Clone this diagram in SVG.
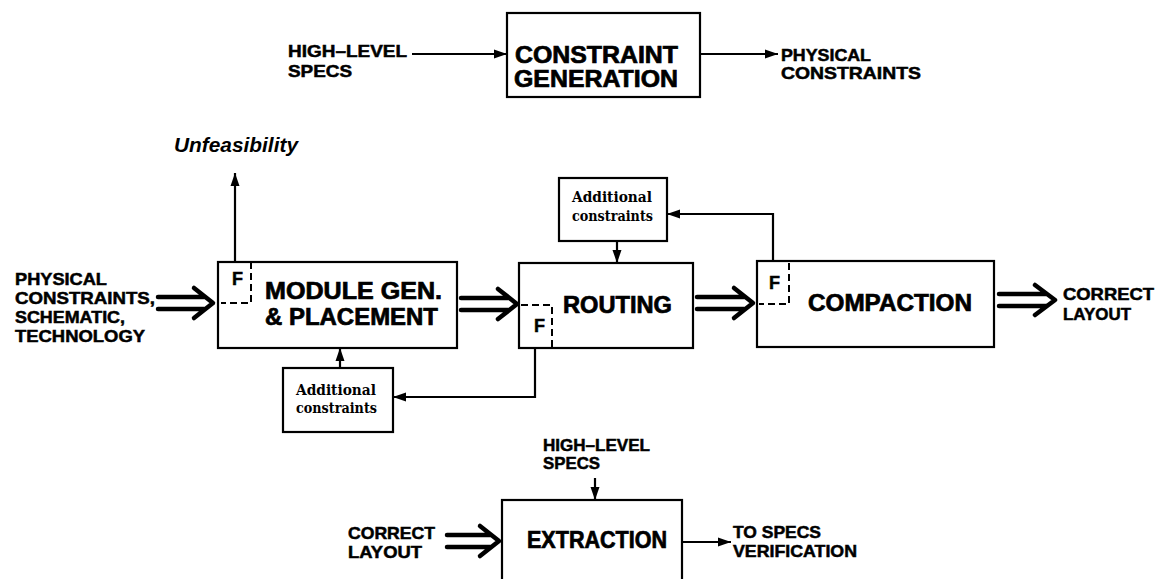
<svg xmlns="http://www.w3.org/2000/svg" width="1158" height="579" viewBox="0 0 1158 579">
<style>
.box{fill:#fff;stroke:#000;stroke-width:2.2}
.dash{fill:none;stroke:#000;stroke-width:2;stroke-dasharray:7 4}
.ln{fill:none;stroke:#000;stroke-width:2.2}
.dbl{fill:none;stroke:#000;stroke-width:4.5;stroke-linecap:round;stroke-linejoin:round}
.big{font-family:"Liberation Sans",Arial,sans-serif;font-weight:bold;font-size:23px;fill:#000;stroke:#000;stroke-width:0.7}
.lbl{font-family:"Liberation Sans",Arial,sans-serif;font-weight:bold;font-size:16.5px;fill:#000;stroke:#000;stroke-width:0.5}
.f{font-family:"Liberation Sans",Arial,sans-serif;font-weight:bold;font-size:18px;fill:#000;stroke:#000;stroke-width:0.5}
.ser{font-family:"DejaVu Serif","Liberation Serif",serif;font-weight:bold;font-size:14px;fill:#000}
.it{font-family:"Liberation Sans",Arial,sans-serif;font-weight:bold;font-style:italic;font-size:20px;fill:#000}
</style>
<defs>
<marker id="ah" markerUnits="userSpaceOnUse" markerWidth="14" markerHeight="10" refX="13" refY="5" orient="auto">
<path d="M0,0.5 L13,5 L0,9.5 z" fill="#000"/>
</marker>
</defs>
<rect width="1158" height="579" fill="#fff"/>

<g id="connectors">
<line class="ln" x1="412" y1="54" x2="507" y2="54" marker-end="url(#ah)"/>
<line class="ln" x1="700" y1="54" x2="778" y2="54" marker-end="url(#ah)"/>
<line class="ln" x1="235" y1="262" x2="235" y2="173" marker-end="url(#ah)"/>
<line class="ln" x1="617" y1="241" x2="617" y2="263" marker-end="url(#ah)"/>
<polyline class="ln" points="773,261 773,214 667,214" marker-end="url(#ah)"/>
<polyline class="ln" points="535,348 535,397 393,397" marker-end="url(#ah)"/>
<line class="ln" x1="340" y1="368" x2="340" y2="348" marker-end="url(#ah)"/>
<line class="ln" x1="595" y1="478" x2="595" y2="500" marker-end="url(#ah)"/>
<line class="ln" x1="682" y1="542" x2="731" y2="542" marker-end="url(#ah)"/>
<path class="dbl" d="M158,297 H204 M158,309 H204 M194,288 L213,303 L194,318"/>
<path class="dbl" d="M461,298 H508 M461,310 H508 M498,289 L517,304 L498,319"/>
<path class="dbl" d="M697,297 H744 M697,309 H744 M734,288 L753,303 L734,318"/>
<path class="dbl" d="M999,294 H1046 M999,306 H1046 M1035,285 L1055,300 L1035,315"/>
<path class="dbl" d="M447,535 H490 M447,547 H490 M480,526 L499,541 L480,556"/>
</g>

<g id="constraint-generation">
<rect class="box" x="507" y="13" width="193" height="84"/>
<text class="big" x="515" y="63" textLength="163" lengthAdjust="spacingAndGlyphs">CONSTRAINT</text>
<text class="big" x="514" y="87" textLength="164" lengthAdjust="spacingAndGlyphs">GENERATION</text>
</g>

<g id="high-level-specs-top">
<text class="lbl" x="288" y="57" textLength="119" lengthAdjust="spacingAndGlyphs">HIGH–LEVEL</text>
<text class="lbl" x="288" y="77" textLength="64" lengthAdjust="spacingAndGlyphs">SPECS</text>
</g>

<g id="physical-constraints-out">
<text class="lbl" x="781" y="61" textLength="90" lengthAdjust="spacingAndGlyphs">PHYSICAL</text>
<text class="lbl" x="781" y="79" textLength="140" lengthAdjust="spacingAndGlyphs">CONSTRAINTS</text>
</g>

<g id="unfeasibility">
<text class="it" x="174" y="152" textLength="124" lengthAdjust="spacingAndGlyphs">Unfeasibility</text>
</g>

<g id="inputs">
<text class="lbl" x="15" y="285" textLength="92" lengthAdjust="spacingAndGlyphs">PHYSICAL</text>
<text class="lbl" x="15" y="304" textLength="140" lengthAdjust="spacingAndGlyphs">CONSTRAINTS,</text>
<text class="lbl" x="15" y="323" textLength="110" lengthAdjust="spacingAndGlyphs">SCHEMATIC,</text>
<text class="lbl" x="15" y="342" textLength="130" lengthAdjust="spacingAndGlyphs">TECHNOLOGY</text>
</g>

<g id="module-gen">
<rect class="box" x="218" y="262" width="239" height="86"/>
<path class="dash" d="M251,262 V303 H221"/>
<text class="f" x="232" y="285">F</text>
<text class="big" x="265" y="299" textLength="177" lengthAdjust="spacingAndGlyphs">MODULE GEN.</text>
<text class="big" x="265" y="325" textLength="173" lengthAdjust="spacingAndGlyphs">&amp; PLACEMENT</text>
</g>

<g id="routing">
<rect class="box" x="519" y="263" width="174" height="85"/>
<path class="dash" d="M521,305 H552 V347"/>
<text class="f" x="534" y="332">F</text>
<text class="big" x="563" y="313" textLength="109" lengthAdjust="spacingAndGlyphs">ROUTING</text>
</g>

<g id="compaction">
<rect class="box" x="757" y="261" width="237" height="86"/>
<path class="dash" d="M789,263 V304 H759"/>
<text class="f" x="769" y="289">F</text>
<text class="big" x="808" y="311" textLength="164" lengthAdjust="spacingAndGlyphs">COMPACTION</text>
</g>

<g id="correct-layout-out">
<text class="lbl" x="1063" y="300" textLength="91" lengthAdjust="spacingAndGlyphs">CORRECT</text>
<text class="lbl" x="1063" y="320" textLength="68" lengthAdjust="spacingAndGlyphs">LAYOUT</text>
</g>

<g id="additional-top">
<rect class="box" x="559" y="178" width="108" height="63"/>
<text class="ser" x="572" y="202" textLength="80" lengthAdjust="spacingAndGlyphs">Additional</text>
<text class="ser" x="572" y="221" textLength="81" lengthAdjust="spacingAndGlyphs">constraints</text>
</g>

<g id="additional-bottom">
<rect class="box" x="283" y="368" width="110" height="64"/>
<text class="ser" x="296" y="395" textLength="80" lengthAdjust="spacingAndGlyphs">Additional</text>
<text class="ser" x="296" y="413" textLength="81" lengthAdjust="spacingAndGlyphs">constraints</text>
</g>

<g id="high-level-specs-bottom">
<text class="lbl" x="543" y="451" textLength="107" lengthAdjust="spacingAndGlyphs">HIGH–LEVEL</text>
<text class="lbl" x="543" y="469" textLength="57" lengthAdjust="spacingAndGlyphs">SPECS</text>
</g>

<g id="correct-layout-in">
<text class="lbl" x="348" y="539" textLength="87" lengthAdjust="spacingAndGlyphs">CORRECT</text>
<text class="lbl" x="348" y="558" textLength="74" lengthAdjust="spacingAndGlyphs">LAYOUT</text>
</g>

<g id="extraction">
<rect class="box" x="502" y="500" width="180" height="90"/>
<text class="big" x="527" y="548" textLength="140" lengthAdjust="spacingAndGlyphs">EXTRACTION</text>
</g>

<g id="to-specs">
<text class="lbl" x="733" y="538" textLength="88" lengthAdjust="spacingAndGlyphs">TO SPECS</text>
<text class="lbl" x="733" y="557" textLength="124" lengthAdjust="spacingAndGlyphs">VERIFICATION</text>
</g>
</svg>
